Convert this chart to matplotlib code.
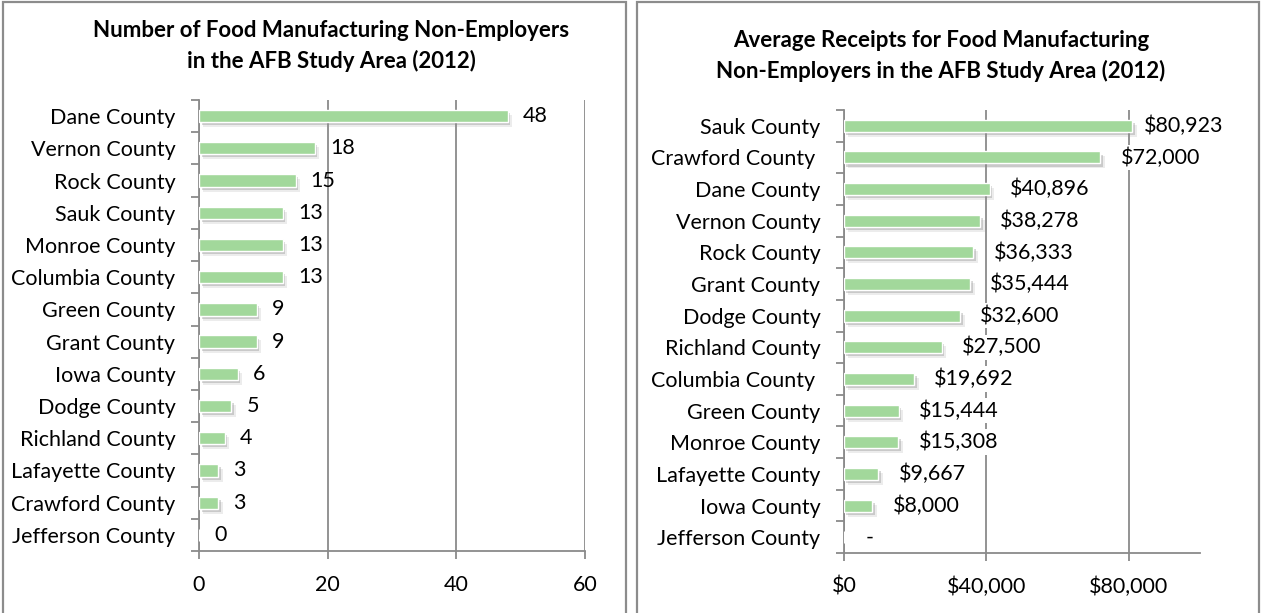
import matplotlib
matplotlib.use("Agg")
import matplotlib.pyplot as plt
import matplotlib.patheffects as pe
from matplotlib.patches import Rectangle
from matplotlib.ticker import FuncFormatter
import numpy as np

plt.rcParams['font.family'] = ['Lato', 'DejaVu Sans']

# Number of food manufacturing non-employers by county
count_counties = ["Dane County", "Vernon County", "Rock County", "Sauk County",
                  "Monroe County", "Columbia County", "Green County", "Grant County",
                  "Iowa County", "Dodge County", "Richland County", "Lafayette County",
                  "Crawford County", "Jefferson County"]
count_values = [48, 18, 15, 13, 13, 13, 9, 9, 6, 5, 4, 3, 3, 0]
count_ticks = [0, 20, 40, 60]

# Average receipts per non-employer by county
receipt_counties = ["Sauk County", "Crawford County ", "Dane County", "Vernon County",
                    "Rock County", "Grant County", "Dodge County", "Richland County",
                    "Columbia County ", "Green County", "Monroe County", "Lafayette County",
                    "Iowa County", "Jefferson County"]
receipt_values = [80923, 72000, 40896, 38278, 36333, 35444, 32600, 27500,
                  19692, 15444, 15308, 9667, 8000, 0]
receipt_ticks = [0, 40000, 80000]

BAR = "#a2d89b"
GRID = "#8a8a8a"
FS = 15.5

fig = plt.figure(figsize=(12.61, 6.13), dpi=100)

# panel frames
for x0, x1 in [(3, 626), (637, 1259)]:
    fig.add_artist(Rectangle((x0 / 1261, -0.01), (x1 - x0) / 1261, 1.01 - 1.5 / 613,
                             transform=fig.transFigure, fill=False,
                             edgecolor="#8c8c8c", linewidth=1.6))

shadow = [pe.SimplePatchShadow(offset=(3.2, -3.6), shadow_rgbFace="#9a9a9a", alpha=0.18),
          pe.SimplePatchShadow(offset=(1.8, -2.2), shadow_rgbFace="#8a8a8a", alpha=0.35),
          pe.Normal()]


def draw_panel(rect, cats, vals, ticks, xmax, fmt, label_fmt, label_box, offset, nudges,
               title, title_xy):
    ax = fig.add_axes(rect)
    n = len(cats)
    y = np.arange(n)
    bars = ax.barh(y, vals, height=0.38, color=BAR, edgecolor="white", linewidth=1.0,
                   zorder=3)
    for b in bars:
        b.set_path_effects(shadow)
    ax.set_xlim(0, xmax)
    ax.set_ylim(n - 0.5, -0.5)
    ax.set_xticks(ticks)
    ax.xaxis.set_major_formatter(FuncFormatter(fmt))
    ax.grid(axis="x", color=GRID, linewidth=1.3, zorder=0)
    # category boundary ticks, labels at centers
    ax.set_yticks(np.arange(n + 1) - 0.5)
    ax.set_yticklabels([])
    ax.set_yticks(y, minor=True)
    ax.set_yticklabels(cats, minor=True, fontsize=FS)
    ax.tick_params(axis="y", which="major", length=6, width=1.3, color=GRID)
    ax.tick_params(axis="y", which="minor", length=0, pad=17)
    ax.tick_params(axis="x", length=6, width=1.3, color=GRID, labelsize=FS, pad=11)
    for s in ["top", "right"]:
        ax.spines[s].set_visible(False)
    for s in ["left", "bottom"]:
        ax.spines[s].set_color(GRID)
        ax.spines[s].set_linewidth(1.3)
    for i, (yi, v) in enumerate(zip(y, vals)):
        kw = {}
        if label_box:
            kw["bbox"] = dict(boxstyle="square,pad=0.12", fc="white", ec="none")
        ax.annotate(label_fmt(v), (v, yi), xytext=(offset + nudges.get(i, 0), 0),
                    textcoords="offset points", ha="left", va="center", fontsize=FS,
                    zorder=4, **kw)
    fig.text(title_xy[0] / 1261, 1 - title_xy[1] / 613, title, ha="center", va="center",
             fontsize=16, fontweight="bold", linespacing=1.45)
    return ax


draw_panel([199 / 1261, 1 - 551 / 613, 386 / 1261, 451 / 613],
           count_counties, count_values, count_ticks, 60,
           lambda v, p: f"{v:.0f}", lambda v: f"{v:.0f}", False, 11, {},
           "Number of Food Manufacturing Non-Employers\nin the AFB Study Area (2012)",
           (331, 46))

draw_panel([844 / 1261, 1 - 553 / 613, 356 / 1261, 443 / 613],
           receipt_counties, receipt_values, receipt_ticks, 100000,
           lambda v, p: f"${v:,.0f}", lambda v: "-" if v == 0 else f"${v:,.0f}", True,
           14.5, {0: -6, 13: 1},
           "Average Receipts for Food Manufacturing\nNon-Employers in the AFB Study Area (2012)",
           (941, 56))

fig.savefig("out.png", dpi=100)
